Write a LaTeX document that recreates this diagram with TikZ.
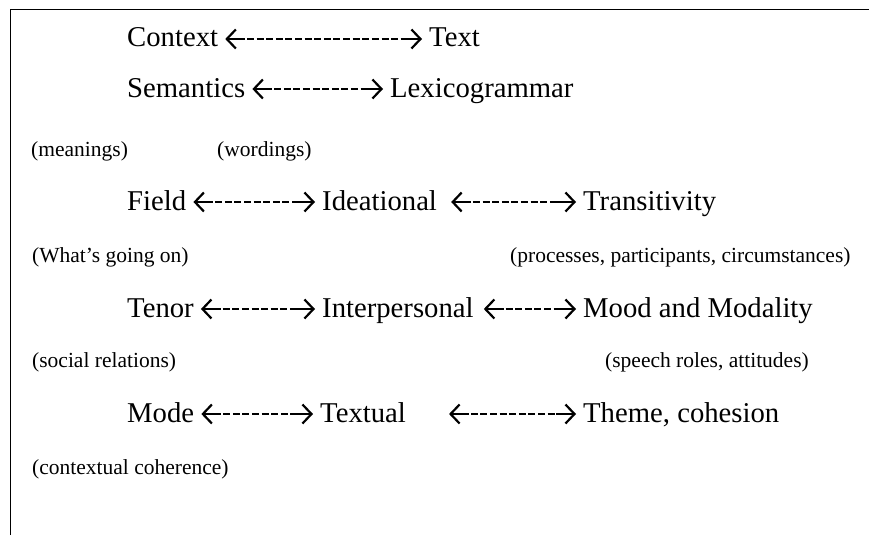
\documentclass[tikz,border=0pt]{standalone}
\usepackage{fontspec}
\setmainfont{Liberation Serif}
\usetikzlibrary{arrows.meta,decorations.markings}
\tikzset{word/.style = {anchor=base west, inner xsep=7pt, inner ysep=0pt, text height=16pt, text depth=0pt, font=\fontsize{28.7}{34}\selectfont}}
\tikzset{note/.style = {anchor=base west, inner sep=0pt, font=\fontsize{21.5}{26}\selectfont}}
\tikzset{link/.style = {line width=1.5pt, dash pattern=on 7pt off 2.6pt,
                        {Straight Barb[length=9pt,width=19pt,line width=2.2pt]}-{Straight Barb[length=9pt,width=19pt,line width=2.2pt]},
                        decoration={markings,
                          mark=at position 0 with {\draw[solid,-,line width=2.2pt] (2,0) -- (20,0);},
                          mark=at position 1 with {\draw[solid,-,line width=2.2pt] (-20,0) -- (-2,0);}},
                        postaction={decorate}}}

\begin{document}
\begin{tikzpicture}[x=1pt,y=-1pt]
\useasboundingbox (0,0) rectangle (869,535);
\draw [line width=1.5pt] (10.5,535) -- (10.5,9.5) -- (869,9.5);

\node [word] (context) at (120,47) {Context};
\node [word] (text) at (422,47) {Text};
\draw [link] (context.east) -- (text.west);

\node [word] (semantics) at (120,97) {Semantics};
\node [word] (lexgram) at (383,97) {Lexicogrammar};
\draw [link] (semantics.east) -- (lexgram.west);

\node [note] (meanings) at (31,156) {(meanings)};
\node [note] (wordings) at (217,156) {(wordings)};

\node [word] (field) at (120,210) {Field};
\node [word] (ideational) at (315,210) {Ideational};
\node [word] (transitivity) at (576,210) {Transitivity};
\draw [link] (field.east) -- (ideational.west);
\draw [link] ([xshift=7pt]ideational.east) -- (transitivity.west);

\node [note] (goingon) at (32,262) {(What’s going on)};
\node [note] (processes) at (510,262) {(processes, participants, circumstances)};

\node [word] (tenor) at (120,317) {Tenor};
\node [word] (interpersonal) at (315,317) {Interpersonal};
\node [word] (mood) at (576,317) {Mood and Modality};
\draw [link] (tenor.east) -- (interpersonal.west);
\draw [link] ([xshift=3pt]interpersonal.east) -- (mood.west);

\node [note] (social) at (32,367) {(social relations)};
\node [note] (speech) at (605,367) {(speech roles, attitudes)};

\node [word] (mode) at (120,422) {Mode};
\node [word] (textual) at (313,422) {Textual};
\node [word] (theme) at (576,422) {Theme, cohesion};
\draw [link] (mode.east) -- (textual.west);
\draw [link] ([xshift=36pt]textual.east) -- (theme.west);

\node [note] (coherence) at (32,474) {(contextual coherence)};
\end{tikzpicture}
\end{document}
